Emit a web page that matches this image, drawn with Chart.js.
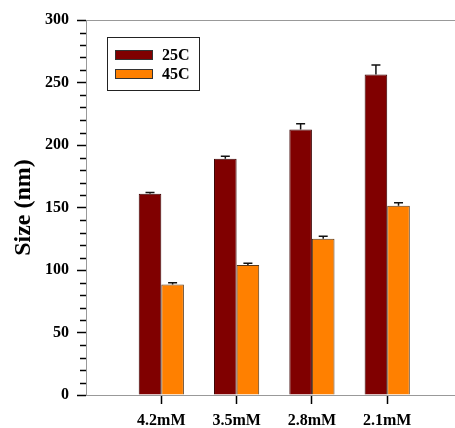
<!DOCTYPE html>
<html>
<head>
<meta charset="utf-8">
<script src="https://cdn.jsdelivr.net/npm/chart.js@4/dist/chart.umd.min.js"></script>
<style>
  html, body { margin: 0; padding: 0; background: #fff; overflow: hidden; }
  #wrap { position: relative; width: 455px; height: 428px; }
</style>
</head>
<body>
<div id="wrap"><canvas id="grafico"></canvas></div>
<script>
// dados
const categorias = ['4.2mM', '3.5mM', '2.8mM', '2.1mM'];
const series = ['25C', '45C'];
const valores25 = [161, 189, 212.5, 256.5];
const erros25 = [1, 2, 4.5, 7.5];
const valores45 = [88.5, 104, 125, 151.5];
const erros45 = [1.3, 1.5, 2, 2.4];
const yTicks = [0, 50, 100, 150, 200, 250, 300];

const FONTE = "'Liberation Serif', 'Times New Roman', serif";
const erros = [erros25, erros45];

function pontos(vals) {
    return vals.map((v, i) => ({ x: i + 1, y: v }));
}

// barras de erro, ticks menores, borda de cima e legenda
const extras = {
    id: 'extras',
    afterDatasetsDraw(chart) {
        const ctx = chart.ctx;
        const y = chart.scales.y;
        const area = chart.chartArea;
        ctx.save();

        // barras de erro (só para cima)
        chart.data.datasets.forEach((ds, d) => {
            const meta = chart.getDatasetMeta(d);
            meta.data.forEach((bar, i) => {
                const v = ds.data[i].y;
                const top = y.getPixelForValue(v + erros[d][i]);
                const base = y.getPixelForValue(v);
                ctx.strokeStyle = '#111';
                ctx.lineWidth = 1.5;
                ctx.beginPath();
                ctx.moveTo(bar.x, base);
                ctx.lineTo(bar.x, top);
                ctx.moveTo(bar.x - 4.5, top);
                ctx.lineTo(bar.x + 4.5, top);
                ctx.stroke();
            });
        });

        // ticks menores do eixo y
        ctx.strokeStyle = '#000';
        ctx.lineWidth = 1.5;
        for (let v = y.min; v <= y.max; v += 10) {
            if (v % 50 === 0) continue;
            const py = Math.round(y.getPixelForValue(v)) + 0.5;
            ctx.beginPath();
            ctx.moveTo(area.left - 6, py);
            ctx.lineTo(area.left, py);
            ctx.stroke();
        }

        // borda de cima
        ctx.strokeStyle = '#999';
        ctx.lineWidth = 1.2;
        ctx.beginPath();
        ctx.moveTo(area.left, area.top + 0.5);
        ctx.lineTo(area.right, area.top + 0.5);
        ctx.stroke();

        // legenda
        const lx = 107, ly = 37;
        ctx.strokeStyle = '#222';
        ctx.lineWidth = 1;
        ctx.strokeRect(lx + 0.5, ly + 0.5, 92, 53);
        ctx.font = 'bold 16px ' + FONTE;
        ctx.textBaseline = 'middle';
        chart.data.datasets.forEach((ds, d) => {
            const sy = ly + 13 + d * 19;
            ctx.fillStyle = ds.backgroundColor;
            ctx.fillRect(lx + 8, sy, 38, 10);
            ctx.strokeStyle = '#333';
            ctx.strokeRect(lx + 8.5, sy + 0.5, 37, 9);
            ctx.fillStyle = '#000';
            ctx.fillText(ds.label, lx + 55, sy + 5.5);
        });
        ctx.restore();
    }
};

new Chart(document.getElementById('grafico'), {
    type: 'bar',
    data: {
        datasets: [
            {
                label: series[0],
                data: pontos(valores25),
                backgroundColor: '#800000',
                borderColor: '#3a0000',
                borderWidth: 1
            },
            {
                label: series[1],
                data: pontos(valores45),
                backgroundColor: '#FF8000',
                borderColor: '#5a3a1a',
                borderWidth: 1
            }
        ]
    },
    options: {
        responsive: true,
        maintainAspectRatio: false,
        animation: false,
        layout: { padding: { top: 20, right: 0, left: 0, bottom: 0 } },
        datasets: { bar: { categoryPercentage: 0.6, barPercentage: 1.0, grouped: true } },
        plugins: {
            legend: { display: false },
            tooltip: { enabled: false }
        },
        scales: {
            x: {
                type: 'linear',
                min: 0,
                max: 4.9,
                offset: false,
                afterBuildTicks: (scale) => {
                    scale.ticks = categorias.map((c, i) => ({ value: i + 1 }));
                },
                afterFit: (scale) => { scale.height = 33; },
                grid: {
                    offset: false,
                    drawOnChartArea: false,
                    tickLength: 9,
                    tickColor: '#000',
                    tickWidth: 1.5
                },
                border: { color: '#999', width: 1 },
                ticks: {
                    autoSkip: false,
                    maxRotation: 0,
                    padding: 7,
                    color: '#000',
                    font: { family: FONTE, size: 16, weight: 'bold' },
                    callback: (v) => categorias[v - 1] || ''
                }
            },
            y: {
                min: 0,
                max: 300,
                afterBuildTicks: (scale) => {
                    scale.ticks = yTicks.map(v => ({ value: v }));
                },
                afterFit: (scale) => { scale.width = 86; },
                grid: {
                    drawOnChartArea: false,
                    tickLength: 9,
                    tickColor: '#000',
                    tickWidth: 1.5
                },
                border: { color: '#999', width: 1 },
                ticks: {
                    padding: 8,
                    color: '#000',
                    font: { family: FONTE, size: 16, weight: 'bold' }
                },
                title: {
                    display: true,
                    text: 'Size (nm)',
                    color: '#000',
                    padding: { top: 9, bottom: 0 },
                    font: { family: FONTE, size: 24, weight: 'bold' }
                }
            }
        }
    },
    plugins: [extras]
});
</script>
</body>
</html>
